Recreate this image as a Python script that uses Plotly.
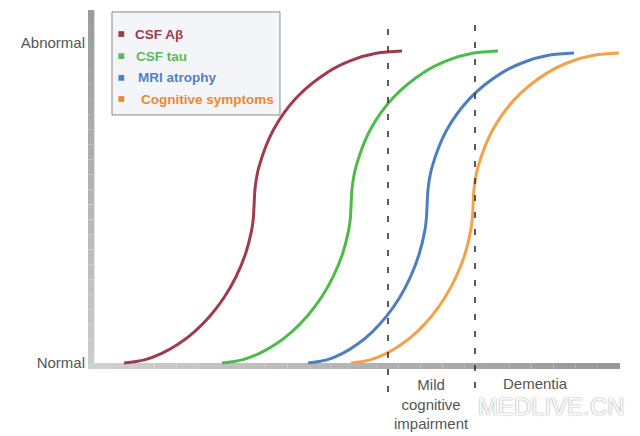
import plotly.graph_objects as go

# ---- data (disease progression units 0-100, biomarker level 0=Normal .. 100=Abnormal)
series_names = ["CSF Aβ", "CSF tau", "MRI atrophy", "Cognitive symptoms"]
series_colors = ["#a03a4c", "#4cbb47", "#4d7fbf", "#f3a24a"]
legend_text_colors = ["#9b3b4b", "#5cb85c", "#4f81c7", "#e8892f"]

abeta_x = [6.06, 9.93, 13.11, 16.28, 19.38, 22.31, 25.02, 27.23, 29.08, 30.23, 30.56, 30.68,
           30.92, 31.63, 34.44, 38.89, 44.70, 49.12, 53.83, 58.71]
abeta_y = [0, 0.98, 2.93, 5.85, 9.75, 14.63, 20.48, 26.81, 34.13, 41.44, 45.34, 48.75,
           55.11, 61.38, 73.13, 83.22, 90.97, 94.58, 96.77, 97.5]

tau_x = [24.62, 28.46, 31.62, 34.76, 37.84, 40.74, 43.43, 45.63, 47.46, 48.60, 48.94, 49.05,
         49.29, 50.00, 52.78, 57.21, 62.97, 67.37, 72.05, 76.89]
tau_y = [0, 0.98, 2.93, 5.85, 9.75, 14.63, 20.48, 26.81, 34.13, 41.44, 45.34, 48.75,
         55.11, 61.38, 73.13, 83.22, 90.97, 94.58, 96.77, 97.5]

mri_x = [40.91, 44.45, 47.37, 50.26, 53.10, 55.79, 58.27, 60.29, 61.98, 63.04, 63.34, 63.45,
         63.69, 64.40, 67.18, 71.61, 77.37, 81.77, 86.45, 91.29]
mri_y = [0, 0.98, 2.93, 5.85, 9.75, 14.63, 20.48, 26.81, 34.13, 41.44, 45.34, 48.75,
         55.03, 61.21, 72.81, 82.78, 90.43, 93.99, 96.15, 96.875]

cog_x = [49.05, 52.68, 55.67, 58.64, 61.55, 64.30, 66.84, 68.92, 70.66, 71.73, 72.04, 72.16,
         72.40, 73.10, 75.87, 80.26, 85.99, 90.35, 95.00, 99.81]
cog_y = [0, 0.98, 2.93, 5.85, 9.75, 14.63, 20.48, 26.81, 34.13, 41.44, 45.34, 48.75,
         55.03, 61.21, 72.81, 82.78, 90.43, 93.99, 96.15, 96.875]

series_x = [abeta_x, tau_x, mri_x, cog_x]
series_y = [abeta_y, tau_y, mri_y, cog_y]

y_tick_vals = [100, 0]
y_tick_text = ["Abnormal", "Normal"]

stage_boundaries = [56.06, 72.54]
stage_labels = ["Mild<br>cognitive<br>impairment", "Dementia"]
stage_label_x = [64.39, 83.9]
stage_label_y = [-12.8, -6.56]

# ---- figure
fig = go.Figure()
for xs, ys, name, col in zip(series_x, series_y, series_names, series_colors):
    fig.add_trace(go.Scatter(x=xs, y=ys, mode="lines", name=name,
                             line=dict(color=col, width=3, shape="spline", smoothing=1.0),
                             showlegend=False, hoverinfo="skip"))

shapes = []
n = 24
# vertical axis bar with gradient (darker top -> lighter bottom)
v_top, v_bot = 110.3, -1.9
for i in range(n):
    t = i / (n - 1)
    c = int(0x9c + (0xcc - 0x9c) * t)
    y0 = v_top + (v_bot - v_top) * i / n
    y1 = v_top + (v_bot - v_top) * (i + 1) / n
    shapes.append(dict(type="rect", xref="x", yref="y", x0=-0.76, x1=0.45, y0=y0, y1=y1,
                       fillcolor=f"rgb({c},{c},{c})", line=dict(width=0), layer="below"))
# horizontal axis bar (lighter left -> darker right)
for i in range(n):
    t = i / (n - 1)
    c = int(0xd0 + (0x98 - 0xd0) * t)
    x0 = -0.76 + (100 + 0.76) * i / n
    x1 = -0.76 + (100 + 0.76) * (i + 1) / n
    shapes.append(dict(type="rect", xref="x", yref="y", x0=x0, x1=x1, y0=-1.875, y1=0,
                       fillcolor=f"rgb({c},{c},{c})", line=dict(width=0), layer="below"))
# stage boundary dashed lines
for xb, ytop, ybot in zip(stage_boundaries, [106.6, 107.8], [-9.06, -7.8]):
    shapes.append(dict(type="line", xref="x", yref="y", x0=xb, x1=xb, y0=ybot, y1=ytop,
                       line=dict(color="#333333", width=1.6, dash="6px,11px")))
# legend box
shapes.append(dict(type="rect", xref="x", yref="y", x0=3.79, x1=35.6, y0=77.5, y1=109.7,
                   fillcolor="#f4f5f8", line=dict(color="#8a8a8a", width=1)))

annotations = []
legend_rows_y = [102.8, 95.9, 89.1, 82.5]
legend_text_x = [7.77, 7.9, 8.35, 8.9]
for name, col, tcol, yy, xx in zip(series_names, series_colors, legend_text_colors,
                                   legend_rows_y, legend_text_x):
    shapes.append(dict(type="rect", xref="x", yref="y", x0=5.0, x1=6.1, y0=yy - 0.9, y1=yy + 0.9,
                       fillcolor=tcol, line=dict(width=0)))
    annotations.append(dict(x=xx, y=yy, xref="x", yref="y", text=f"<b>{name}</b>",
                            showarrow=False, xanchor="left", yanchor="middle",
                            font=dict(family="Liberation Sans, Arial", size=13.5, color=tcol)))

for lab, lx, ly in zip(stage_labels, stage_label_x, stage_label_y):
    annotations.append(dict(x=lx, y=ly, xref="x", yref="y", text=lab, showarrow=False,
                            xanchor="center", yanchor="middle",
                            font=dict(family="Liberation Sans, Arial", size=15, color="#555555")))

annotations.append(dict(x=87.1, y=-13.6, xref="x", yref="y", text="MEDLIVE.CN", showarrow=False,
                        xanchor="center", yanchor="middle",
                        font=dict(family="Liberation Sans, Arial", size=24, color="#fbfbfb",
                                  shadow="0px 0px 1.5px #777777")))

fig.update_layout(
    width=640, height=436,
    margin=dict(l=86, r=8, t=7, b=28),
    paper_bgcolor="white", plot_bgcolor="white",
    xaxis=dict(range=[-1.136, 102.27], visible=False, showgrid=False, zeroline=False),
    yaxis=dict(range=[-14.0625, 111.25], showgrid=False, zeroline=False, showline=False,
               tickvals=y_tick_vals, ticktext=y_tick_text, ticks="",
               tickfont=dict(family="Liberation Sans, Arial", size=15, color="#555555")),
    shapes=shapes, annotations=annotations,
    showlegend=False,
)

fig.write_html("out.html")
